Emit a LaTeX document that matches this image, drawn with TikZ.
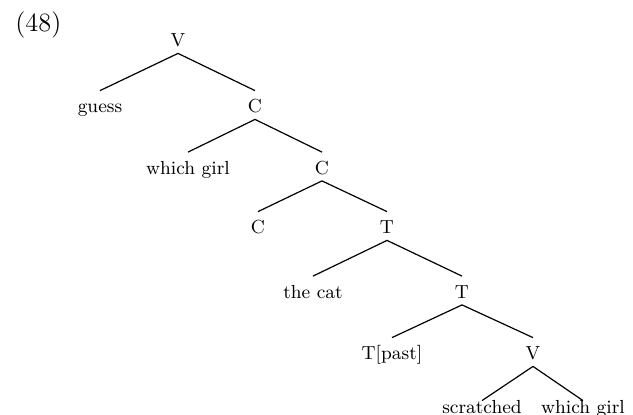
\documentclass[tikz,border=0pt]{standalone}
\begin{document}
\begin{tikzpicture}[x=0.5pt,y=-0.5pt,
  lab/.style={anchor=base,inner xsep=0pt,inner ysep=2.25pt,text height=8.5pt,text depth=1pt,font=\fontsize{9.45}{11}\selectfont},
  leafb/.style={lab,text height=3.75pt},
  br/.style={line width=0.6pt}]
\useasboundingbox (0,0) rectangle (633,414);
\node[anchor=base west,inner sep=0pt,font=\fontsize{13.2}{15}\selectfont] (ex) at (15,31.5) {(48)};
\node[lab] (v1) at (178,46.5) {V};
\node[lab] (guess) at (100,112.5) {guess};
\node[lab] (c2) at (255,112.5) {C};
\node[lab] (wg1) at (188,174) {which girl};
\node[lab] (c3) at (322,174) {C};
\node[lab] (c4) at (258,233.5) {C};
\node[lab] (t4) at (387,233.5) {T};
\node[lab] (cat) at (313,298) {the cat};
\node[lab] (t5) at (462,298) {T};
\node[lab] (tp) at (392,359.5) {T[past]};
\node[lab] (v6) at (533,359.5) {V};
\node[leafb] (scr) at (482,413) {scratched};
\node[leafb] (wg2) at (583,413) {which girl};
\draw[br] (v1.south) -- (guess.north);
\draw[br] (v1.south) -- (c2.north);
\draw[br] (c2.south) -- (wg1.north);
\draw[br] (c2.south) -- (c3.north);
\draw[br] (c3.south) -- (c4.north);
\draw[br] (c3.south) -- (t4.north);
\draw[br] (t4.south) -- (cat.north);
\draw[br] (t4.south) -- (t5.north);
\draw[br] (t5.south) -- (tp.north);
\draw[br] (t5.south) -- (v6.north);
\draw[br] (v6.south) -- (scr.north);
\draw[br] (v6.south) -- (wg2.north);
\end{tikzpicture}
\end{document}
